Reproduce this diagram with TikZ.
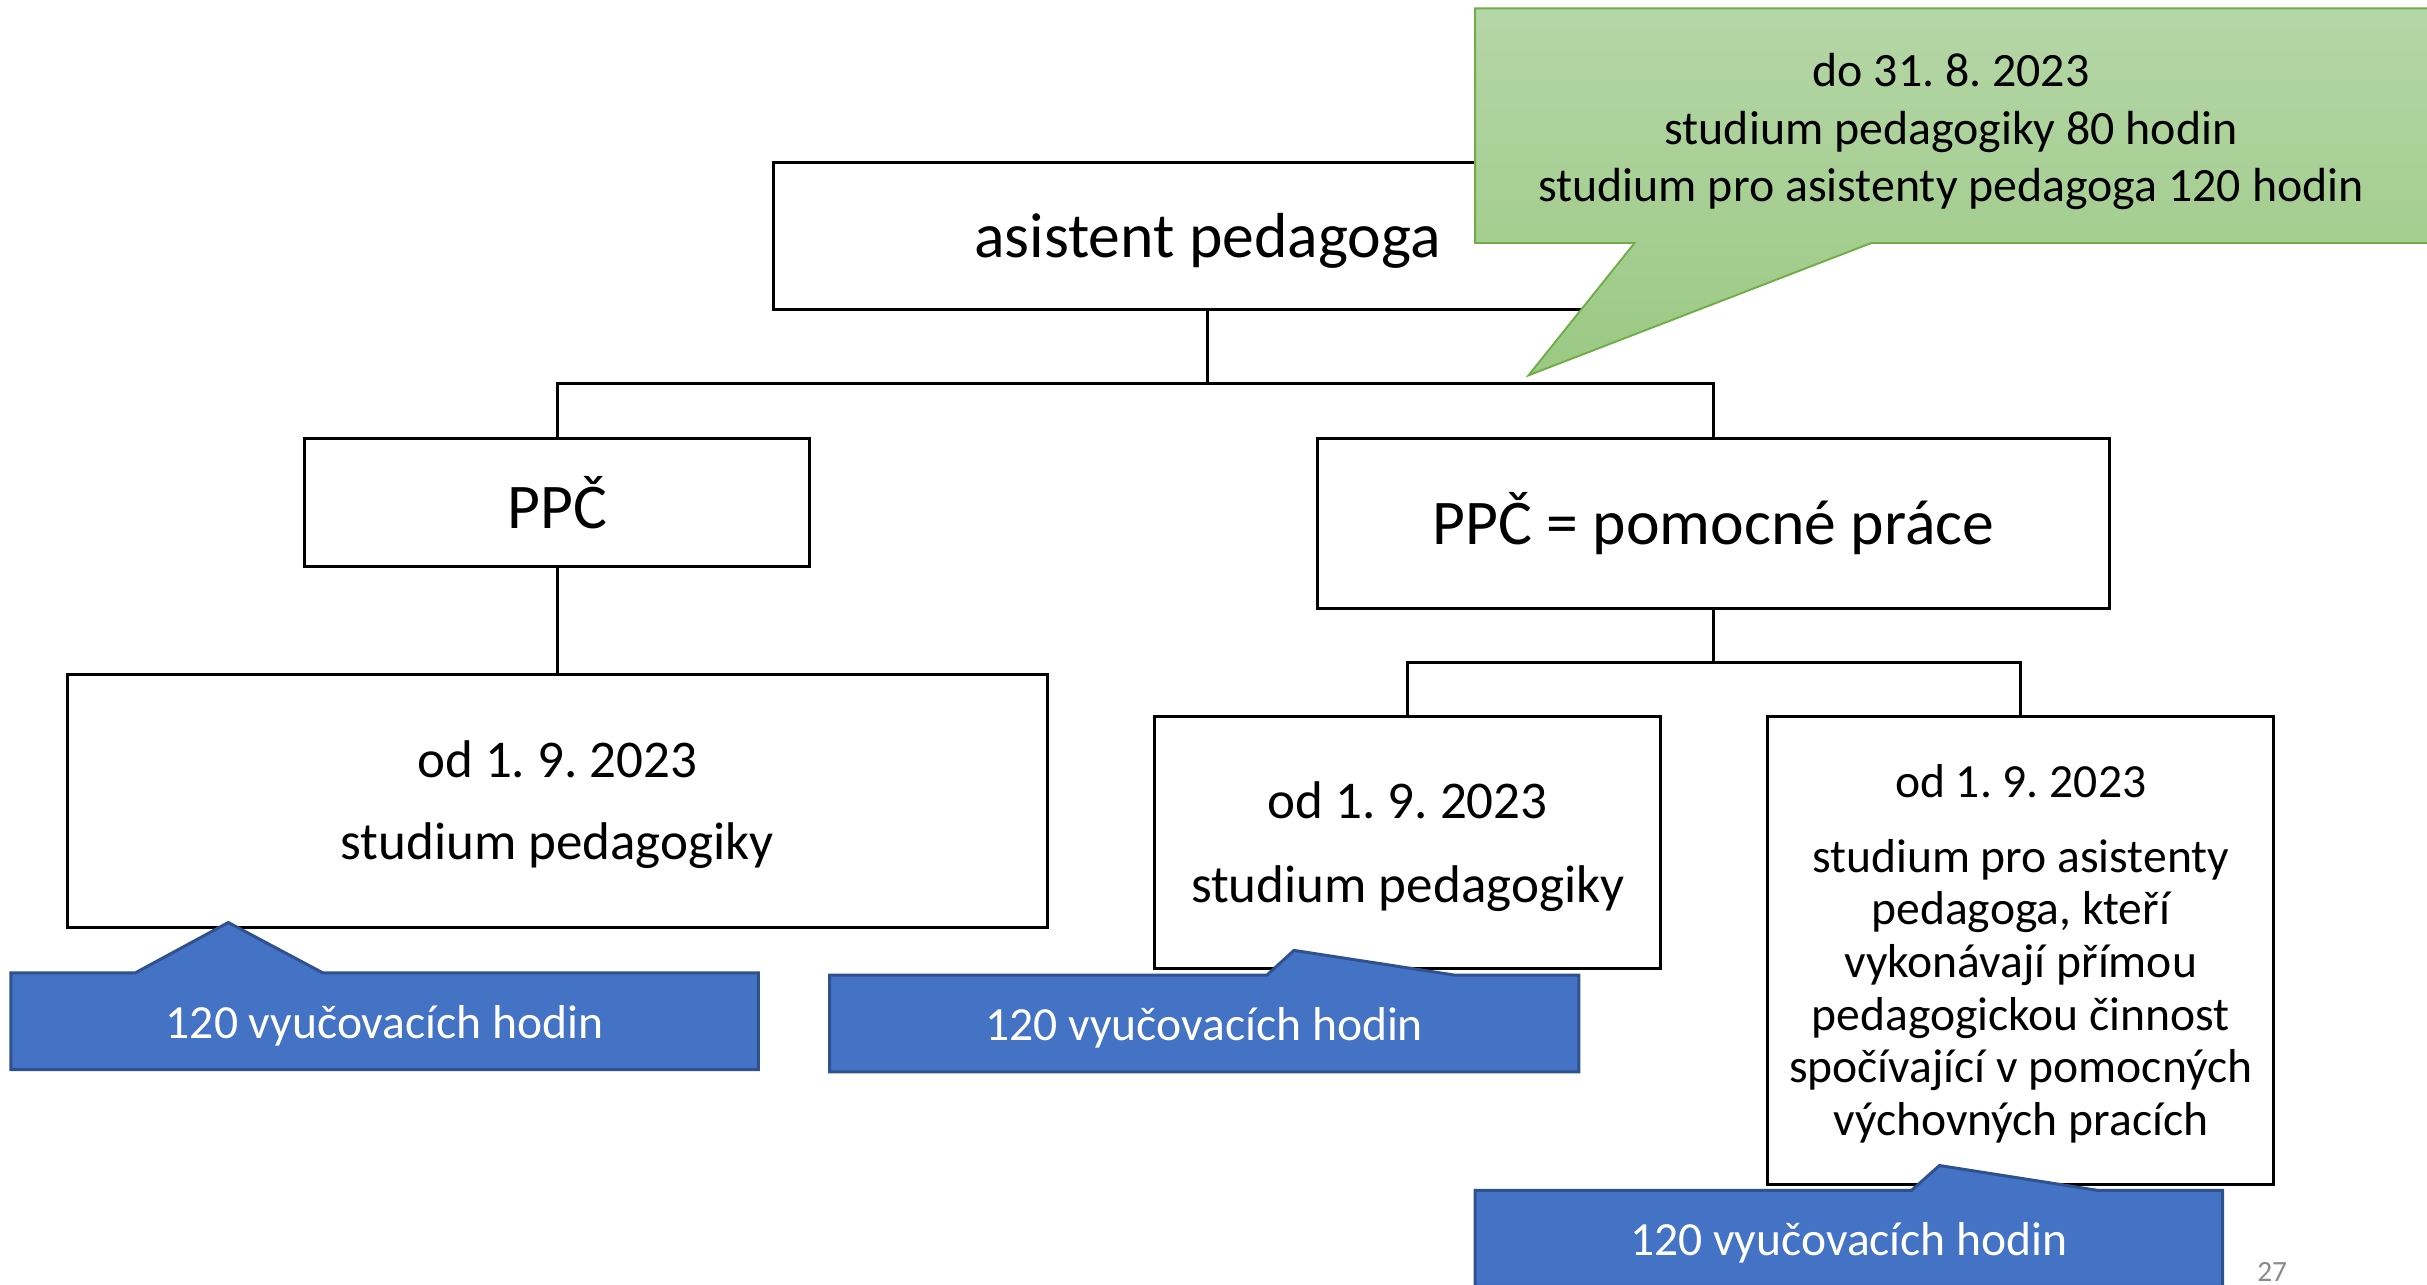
\documentclass[tikz,border=0pt]{standalone}
\usepackage{fontspec}
\setmainfont{Carlito}

\definecolor{callblue}{HTML}{4472C4}
\definecolor{callblueline}{HTML}{2F528F}
\definecolor{greentop}{HTML}{B5D6A7}
\definecolor{greenbottom}{HTML}{9BC983}
\definecolor{greenline}{HTML}{70AD47}
\definecolor{pagegray}{HTML}{8A8A8A}

\newcommand{\topstrut}{\rule{0pt}{0.84em}}

\begin{document}
\frenchspacing
\begin{tikzpicture}[
        box/.style={draw=black, line width=1.1pt, fill=white, align=center, inner sep=0pt},
        conn/.style={draw=black, line width=1.1pt},
        bigfont/.style={font=\fontsize{23.4}{27}\selectfont},
        midfont/.style={font=\fontsize{19.5}{23.4}\selectfont},
        smallfont/.style={font=\fontsize{17.5}{19.35}\selectfont},
        greencall/.style={draw=greenline, line width=0.7pt, top color=greentop, bottom color=greenbottom},
        bluecall/.style={draw=callblueline, line width=1.1pt, fill=callblue},
        greentext/.style={align=center, inner sep=0pt, font=\fontsize{17.6}{21.1}\selectfont},
        bluetext/.style={text=white, inner sep=0pt, font=\fontsize{17.5}{21}\selectfont}
    ]

        \useasboundingbox (0,0) rectangle (31.36,-16.6);

        \node[box, bigfont, minimum width=11.2cm, minimum height=1.9cm] (ap) at (15.6,-3.05) {\topstrut asistent pedagoga};

        \node[box, bigfont, minimum width=6.52cm, minimum height=1.66cm] (ppc) at (7.2,-6.49) {PPČ};

        \node[box, bigfont, minimum width=10.24cm, minimum height=2.2cm] (ppcp) at (22.14,-6.76) {PPČ = pomocné práce};

        \node[box, midfont, minimum width=12.66cm, minimum height=3.26cm] (odl) at (7.2,-10.35) {\topstrut od 1. 9. 2023\\[6.8pt]studium pedagogiky};

        \node[box, midfont, minimum width=6.54cm, minimum height=3.26cm] (odm) at (18.19,-10.89) {\topstrut od 1. 9. 2023\\[7.3pt]studium pedagogiky};

        \node[box, smallfont, minimum width=6.54cm, minimum height=6.04cm] (odr) at (26.11,-12.28) {\topstrut od 1. 9. 2023\\[8pt]studium pro asistenty\\pedagoga, kteří\\vykonávají přímou\\pedagogickou činnost\\spočívající v pomocných\\výchovných pracích};

        \coordinate (bus1) at (15.6,-4.96);
        \draw[conn] (ap.south) -- (bus1);
        \draw[conn] (ppc.north) |- (bus1) -| (ppcp.north);

        \draw[conn] (ppc.south) -- (odl.north);

        \coordinate (bus2) at (22.14,-8.56);
        \draw[conn] (ppcp.south) -- (bus2);
        \draw[conn] (odm.north) |- (bus2) -| (odr.north);

        \draw[greencall] (19.06,-0.108) -- (31.6,-0.108) -- (31.6,-3.14) -- (24.18,-3.14) -- (19.75,-4.85) -- (21.12,-3.14) -- (19.06,-3.14) -- cycle;
        \node[greentext] (dnote) at (25.21,-1.7) {do 31. 8. 2023\\studium pedagogiky 80 hodin\\studium pro asistenty pedagoga 120 hodin};

        \draw[bluecall] (0.14,-12.57) -- (1.75,-12.57) -- (2.95,-11.92) -- (4.17,-12.57) -- (9.8,-12.57) -- (9.8,-13.82) -- (0.14,-13.82) -- cycle;
        \node[bluetext] (hodl) at (4.97,-13.26) {120 vyučovacích hodin};

        \draw[bluecall] (10.72,-12.6) -- (16.37,-12.6) -- (16.72,-12.28) -- (18.8,-12.6) -- (20.4,-12.6) -- (20.4,-13.85) -- (10.72,-13.85) -- cycle;
        \node[bluetext] (hodm) at (15.56,-13.28) {120 vyučovacích hodin};

        \draw[bluecall] (19.06,-15.38) -- (24.7,-15.38) -- (25.06,-15.06) -- (27.1,-15.38) -- (28.72,-15.38) -- (28.72,-16.62) -- (19.06,-16.62) -- cycle;
        \node[bluetext] (hodr) at (23.89,-16.06) {120 vyučovacích hodin};

        \node[anchor=base west, text=pagegray, inner sep=0pt, font=\fontsize{10.8}{13}\selectfont] (pnum) at (29.16,-16.56) {27};
   \end{tikzpicture}
\end{document}
